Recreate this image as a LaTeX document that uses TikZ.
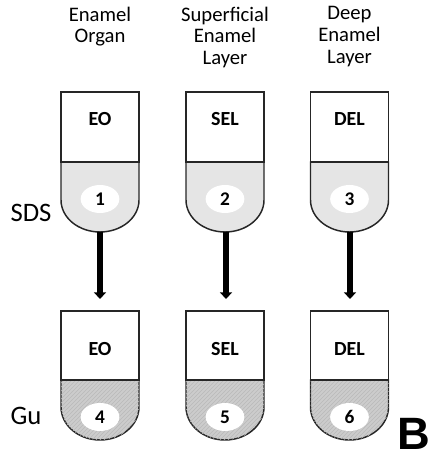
\documentclass[tikz,border=0pt]{standalone}
\usepackage{fontspec}
\setmainfont{Carlito}
\newfontfamily\bigfont{Liberation Sans}
\usetikzlibrary{patterns, shapes.geometric, arrows.meta}

\begin{document}
\begin{tikzpicture}[x=0.75pt, y=0.75pt,
    tube/.style={line width=1.1pt, draw=black!85},
    soft/.style={tube, fill=gray!20},
    hatched/.style={tube, fill=gray!40, postaction={pattern=north east lines, pattern color=gray!55}},
    numblob/.style={ellipse, fill=white, inner sep=0pt, minimum width=29pt, minimum height=21pt, font=\fontsize{14.5}{15}\selectfont\bfseries},
    tubelabel/.style={font=\fontsize{15}{16}\selectfont\bfseries},
    heading/.style={anchor=north, align=center, font=\fontsize{15.5}{16.2}\selectfont},
    sidelabel/.style={font=\fontsize{20}{21}\selectfont},
    flowarrow/.style={line width=4pt, -{Triangle[width=9pt, length=5pt]}}]
    \useasboundingbox (0,0) rectangle (433,456);

    % headings
    \node[heading] (h1) at (100,454) {Enamel\\Organ};
    \node[heading] (h2) at (225,454) {Superficial\\Enamel\\Layer};
    \node[heading] (h3) at (349.5,454) {Deep\\Enamel\\Layer};

    % upper row (SDS)
    \draw[soft] (61,294) -- (61,256) arc[start angle=180, end angle=360, x radius=39, y radius=32] -- (139,294) -- cycle;
    \draw[tube, fill=white] (61,294) rectangle (139,364);
    \draw[soft] (186,294) -- (186,256) arc[start angle=180, end angle=360, x radius=39, y radius=32] -- (264,294) -- cycle;
    \draw[tube, fill=white] (186,294) rectangle (264,364);
    \draw[soft] (310.5,294) -- (310.5,256) arc[start angle=180, end angle=360, x radius=39, y radius=32] -- (388.5,294) -- cycle;
    \draw[tube, fill=white] (310.5,294) rectangle (388.5,364);

    \node[tubelabel] (eoA) at (100,337) {EO};
    \node[tubelabel] (selA) at (225,337) {SEL};
    \node[tubelabel] (delA) at (349.5,337) {DEL};
    \node[numblob] (n1) at (100,257) {1};
    \node[numblob] (n2) at (225,257) {2};
    \node[numblob] (n3) at (349.5,257) {3};

    % lower row (Gu)
    \draw[hatched] (61,76) -- (61,49) arc[start angle=180, end angle=360, x radius=39, y radius=33] -- (139,76) -- cycle;
    \draw[tube, fill=white] (61,76) rectangle (139,145);
    \draw[hatched] (186,76) -- (186,49) arc[start angle=180, end angle=360, x radius=39, y radius=33] -- (264,76) -- cycle;
    \draw[tube, fill=white] (186,76) rectangle (264,145);
    \draw[hatched] (310.5,76) -- (310.5,49) arc[start angle=180, end angle=360, x radius=39, y radius=33] -- (388.5,76) -- cycle;
    \draw[tube, fill=white] (310.5,76) rectangle (388.5,145);

    \node[tubelabel] (eoB) at (100,107) {EO};
    \node[tubelabel] (selB) at (225,107) {SEL};
    \node[tubelabel] (delB) at (349.5,107) {DEL};
    \node[numblob] (n4) at (100,39) {4};
    \node[numblob] (n5) at (225,39) {5};
    \node[numblob] (n6) at (349.5,39) {6};

    % arrows between rows
    \coordinate (sds1) at (100,224);
    \coordinate (sds2) at (226,224);
    \coordinate (sds3) at (350,224);
    \coordinate (gu1) at (100,157);
    \coordinate (gu2) at (226,157);
    \coordinate (gu3) at (350,157);
    \draw[flowarrow] (sds1) -- (gu1);
    \draw[flowarrow] (sds2) -- (gu2);
    \draw[flowarrow] (sds3) -- (gu3);

    \node[sidelabel] (sds) at (31,243) {SDS};
    \node[sidelabel] (gu) at (26,40) {Gu};
    \node[anchor=base, inner sep=0pt, font=\bigfont\fontsize{34}{35}\selectfont\bfseries] (panel) at (414,7) {B};
\end{tikzpicture}
\end{document}
